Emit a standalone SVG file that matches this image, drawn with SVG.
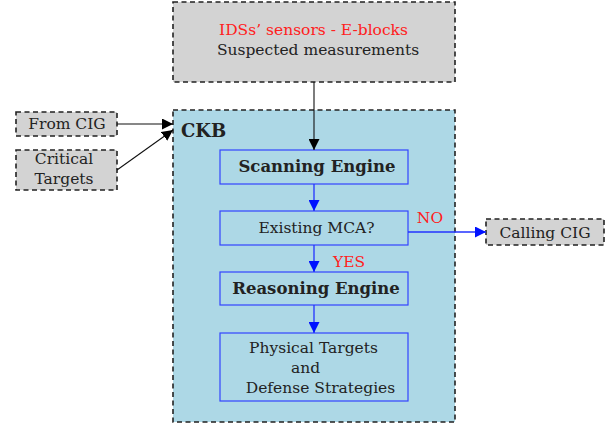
<svg xmlns="http://www.w3.org/2000/svg" width="616" height="426" viewBox="0 0 616 426" font-family="'DejaVu Serif', 'Liberation Serif', serif">
  <style>
    text { font-family: "DejaVu Serif", "Liberation Serif", serif; font-size: 15.5px; fill: #222; }
    .b { font-weight: bold; font-size: 16.5px; }
    .red { fill: #ff2020; }
    .gray { fill: #d3d3d3; stroke: #222; stroke-width: 1.6; stroke-dasharray: 5 3.5; }
    .ckb { fill: #add8e6; stroke: #222; stroke-width: 1.6; stroke-dasharray: 5 3.5; }
    .step { fill: none; stroke: #3344ff; stroke-width: 1.2; }
    .k { stroke: #111; stroke-width: 1.1; fill: none; }
    .bl { stroke: #2233ff; stroke-width: 1.3; fill: none; }
  </style>
  <defs>
    <marker id="ak" viewBox="0 0 10 10" refX="10" refY="5" markerWidth="11" markerHeight="11" markerUnits="userSpaceOnUse" orient="auto">
      <path d="M0,0 L10,5 L0,10 Z" fill="#000"/>
    </marker>
    <marker id="ab" viewBox="0 0 10 10" refX="10" refY="5" markerWidth="11" markerHeight="11" markerUnits="userSpaceOnUse" orient="auto">
      <path d="M0,0 L10,5 L0,10 Z" fill="#0011ff"/>
    </marker>
  </defs>

  <g id="ckb">
    <rect class="ckb" x="173" y="110" width="282" height="312"/>
    <text class="b" x="181" y="137" style="font-size:18px">CKB</text>
  </g>

  <g id="sensors">
    <rect class="gray" x="173" y="2" width="282" height="80"/>
    <text class="red" x="313.5" y="35" text-anchor="middle">IDSs’ sensors - E-blocks</text>
    <text x="318" y="55" text-anchor="middle">Suspected measurements</text>
  </g>

  <g id="from-cig">
    <rect class="gray" x="16" y="112" width="101" height="24"/>
    <text x="67" y="129" text-anchor="middle">From CIG</text>
  </g>

  <g id="critical-targets">
    <rect class="gray" x="16" y="150" width="101" height="40"/>
    <text x="64" y="164" text-anchor="middle">Critical</text>
    <text x="64" y="184" text-anchor="middle">Targets</text>
  </g>

  <g id="scanning-engine">
    <rect class="step" x="220" y="150" width="188" height="34"/>
    <text class="b" x="317" y="172" text-anchor="middle">Scanning Engine</text>
  </g>

  <g id="existing-mca">
    <rect class="step" x="220" y="211" width="188" height="34"/>
    <text x="316.5" y="233" text-anchor="middle">Existing MCA?</text>
  </g>

  <g id="reasoning-engine">
    <rect class="step" x="220" y="272" width="188" height="33"/>
    <text class="b" x="316" y="294" text-anchor="middle">Reasoning Engine</text>
  </g>

  <g id="physical-targets">
    <rect class="step" x="220" y="333" width="188" height="68"/>
    <text x="313.5" y="353" text-anchor="middle">Physical Targets</text>
    <text x="305.5" y="373" text-anchor="middle">and</text>
    <text x="320.5" y="393" text-anchor="middle">Defense Strategies</text>
  </g>

  <g id="calling-cig">
    <rect class="gray" x="486" y="219" width="118" height="26"/>
    <text x="545" y="238" text-anchor="middle">Calling CIG</text>
  </g>

  <g id="connectors">
    <path class="k" d="M314,82 V150" marker-end="url(#ak)"/>
    <path class="k" d="M117,124 H173" marker-end="url(#ak)"/>
    <path class="k" d="M117,170 L173,130" marker-end="url(#ak)"/>
    <path class="bl" d="M314,184 V211" marker-end="url(#ab)"/>
    <path class="bl" d="M314,245 V272" marker-end="url(#ab)"/>
    <path class="bl" d="M314,305 V333" marker-end="url(#ab)"/>
    <path class="bl" d="M408,232 H486" marker-end="url(#ab)"/>
    <text class="red" x="430" y="223" text-anchor="middle">NO</text>
    <text class="red" x="349" y="267" text-anchor="middle">YES</text>
  </g>
</svg>
